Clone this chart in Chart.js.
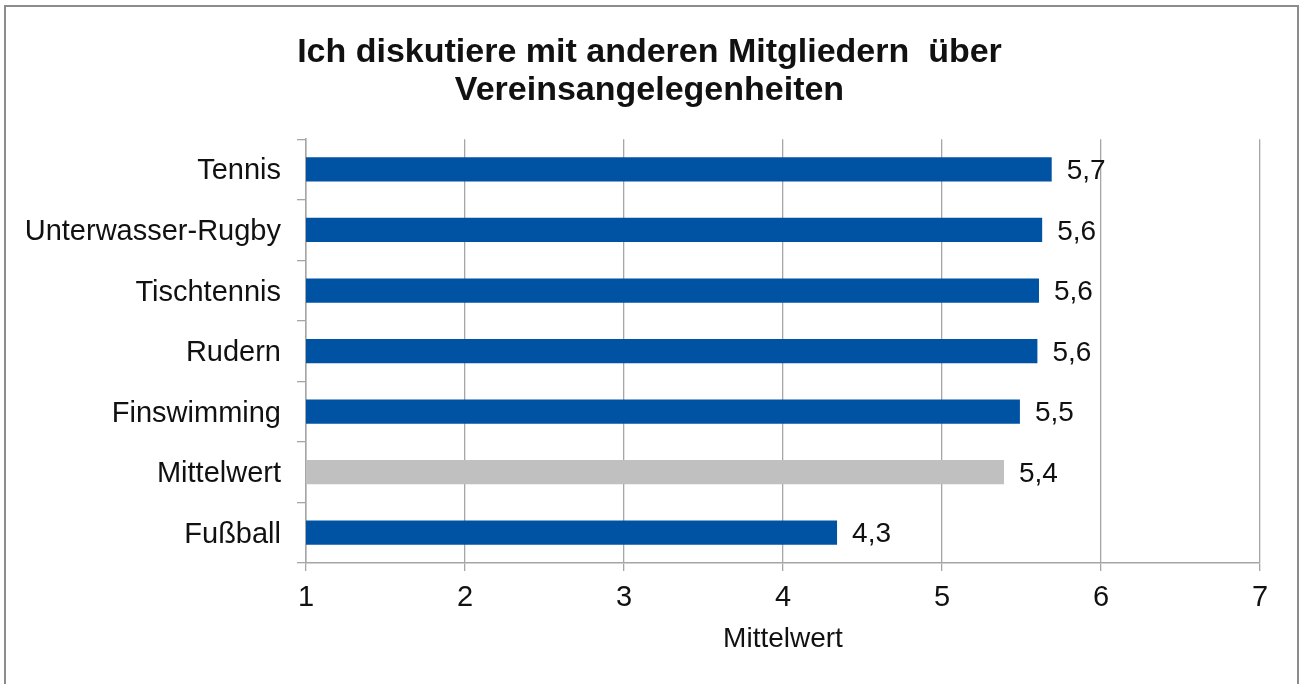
<!DOCTYPE html>
<html>
<head>
<meta charset="utf-8">
<script src="https://cdn.jsdelivr.net/npm/chart.js@4/dist/chart.umd.min.js"></script>
<style>
    body { margin: 0; background: #fff; }
    .frame { position: absolute; left: 4px; top: 5px; width: 1291px; height: 700px; border: 2px solid #8c8c8c; }
    #chart { position: absolute; left: 0; top: 0; }
</style>
</head>
<body>
<div class="frame"></div>
<canvas id="chart" width="1299" height="684"></canvas>
<script>
const categories = ['Tennis', 'Unterwasser-Rugby', 'Tischtennis', 'Rudern', 'Finswimming', 'Mittelwert', 'Fußball'];
const values = [5.69, 5.63, 5.61, 5.60, 5.49, 5.39, 4.34];
const barColors = ['#0052a3', '#0052a3', '#0052a3', '#0052a3', '#0052a3', '#c0c0c0', '#0052a3'];
const titleLines = ['Ich diskutiere mit anderen Mitgliedern  über', 'Vereinsangelegenheiten'];
const axisTitle = 'Mittelwert';

const FONT = "'Liberation Sans', Arial, sans-serif";
const gridColor = '#a6a6a6';

// value labels at the end of each bar
const barLabels = {
    id: 'barLabels',
    afterDatasetsDraw(chart) {
        const ctx = chart.ctx;
        const meta = chart.getDatasetMeta(0);
        ctx.save();
        ctx.font = '28px ' + FONT;
        ctx.fillStyle = '#111';
        ctx.textAlign = 'left';
        ctx.textBaseline = 'middle';
        meta.data.forEach((bar, i) => {
            const txt = values[i].toFixed(1).replace('.', ',');
            ctx.fillText(txt, bar.x + 15, bar.y + 2);
        });
        ctx.restore();
    }
};

new Chart(document.getElementById('chart').getContext('2d'), {
    type: 'bar',
    data: {
        labels: categories,
        datasets: [{
            data: values,
            backgroundColor: barColors,
            barPercentage: 0.4,
            categoryPercentage: 1.0,
        }],
    },
    options: {
        indexAxis: 'y',
        responsive: false,
        animation: false,
        layout: { padding: 0 },
        plugins: {
            legend: { display: false },
            tooltip: { enabled: false },
            title: {
                display: true,
                text: titleLines,
                color: '#111',
                font: { family: FONT, size: 34, weight: 'bold', lineHeight: 1.12 },
                padding: { top: 34, bottom: 29 },
            },
        },
        scales: {
            x: {
                min: 1,
                max: 7,
                afterFit: (scale) => { scale.height = 121; },
                ticks: {
                    stepSize: 1,
                    padding: 10,
                    color: '#111',
                    font: { family: FONT, size: 29 },
                },
                grid: { color: gridColor, lineWidth: 1.3, tickLength: 8 },
                border: { color: gridColor, width: 1.5 },
                title: {
                    display: true,
                    text: axisTitle,
                    color: '#111',
                    font: { family: FONT, size: 28 },
                    padding: { top: 0, bottom: 28 },
                },
            },
            y: {
                afterFit: (scale) => { scale.width = 306; },
                ticks: {
                    padding: 16,
                    labelOffset: 2,
                    color: '#111',
                    font: { family: FONT, size: 29 },
                },
                grid: { drawOnChartArea: false, color: gridColor, lineWidth: 1.3, tickLength: 9 },
                border: { color: gridColor, width: 1.5 },
            },
            // empty right-hand margin so the title stays centred on the page
            yRight: {
                position: 'right',
                type: 'linear',
                afterFit: (scale) => { scale.width = 39; },
                ticks: { display: false },
                grid: { display: false },
                border: { display: false },
            },
        },
    },
    plugins: [barLabels],
});
</script>
</body>
</html>
